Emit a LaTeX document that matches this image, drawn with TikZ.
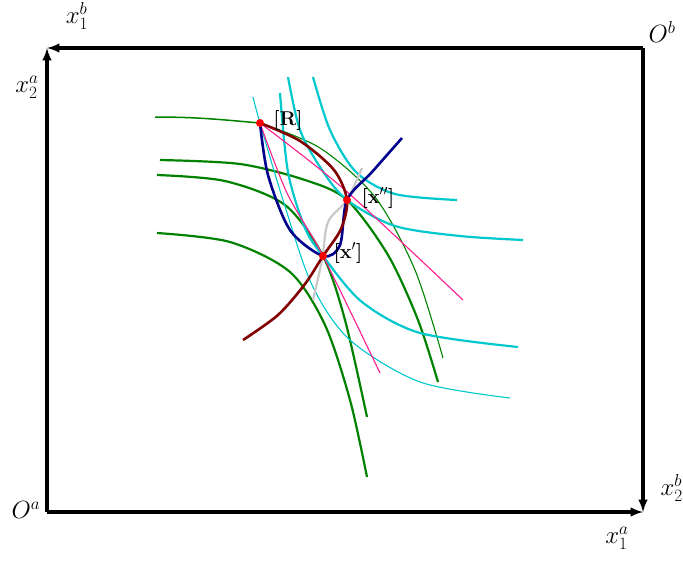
\documentclass[tikz,border=0pt]{standalone}
\usepackage{amsmath, amssymb, amsfonts}
\usepackage{xcolor}
\usepackage{tikz}

\definecolor{vertB}{RGB}{0,130,0}
\definecolor{cyanA}{RGB}{0,200,205}
\definecolor{rose}{RGB}{255,30,140}
\definecolor{marine}{RGB}{0,0,140}
\definecolor{bordeaux}{RGB}{130,0,0}
\definecolor{grisclair}{RGB}{200,200,200}

\begin{document}
\begin{tikzpicture}[x=1pt, y=-1pt,
                axe/.style={line width=3.2pt, ->, >=latex},
                etiquette/.style={font=\fontsize{25}{25}\selectfont},
                point/.style={circle, fill=red, inner sep=0pt, minimum size=8pt},
                nom/.style={font=\fontsize{20}{20}\selectfont\bfseries, inner sep=1pt},
                indifA/.style={cyanA, line width=2.2pt},
                indifAfin/.style={cyanA, line width=1.1pt},
                indifB/.style={vertB, line width=2.2pt},
                indifBfin/.style={vertB, line width=1.1pt},
                budget/.style={rose, line width=1.1pt},
                contrat/.style={marine, line width=2.6pt},
                offre/.style={bordeaux, line width=2.6pt},
                aux/.style={grisclair, line width=2.2pt}
            ]
                \useasboundingbox (0,0) rectangle (683,560);

                % Les quatre coins de la boîte
                \coordinate (Oa) at (47,512);
                \coordinate (Ob) at (643,48);
                \coordinate (HG) at (47,48);
                \coordinate (BD) at (643,512);

                % Les axes (flèches)
                \draw[axe] (Oa) -- (HG);
                \draw[axe] (Ob) -- (HG);
                \draw[axe] (Oa) -- (BD);
                \draw[axe] (Ob) -- (BD);

                % Étiquettes des origines et des axes
                \node[etiquette] (LOa) at (26,510) {$O^a$};
                \node[etiquette] (LOb) at (662,32) {$O^b$};
                \node[etiquette] (Lx1b) at (77,16) {$x_1^b$};
                \node[etiquette] (Lx2a) at (27,87) {$x_2^a$};
                \node[etiquette] (Lx1a) at (617,538) {$x_1^a$};
                \node[etiquette, anchor=west] (Lx2b) at (657,488) {$x_2^b$};

                % Points remarquables
                \coordinate (R) at (260,123);
                \coordinate (X2) at (347,200);
                \coordinate (X1) at (323,256);

                % Courbes d'indifférence de b (vert)
                \draw[indifB, line width=1.5pt] (155,117) to[out=0, in=175] (R);
                \draw[indifBfin] plot[smooth] coordinates {(R) (320,148) (375,197) (415,270) (443,358)};
                \draw[indifB] plot[smooth] coordinates {(160,160) (240,164) (305,180) (X2) (388,255) (418,320) (438,382)};
                \draw[indifB] plot[smooth] coordinates {(157,175) (225,181) (285,205) (X1) (345,320) (367,417)};
                \draw[indifB] plot[smooth] coordinates {(157,233) (230,242) (290,272) (325,325) (350,400) (367,477)};

                % Courbes d'indifférence de a (cyan)
                \draw[indifAfin] plot[smooth] coordinates {(253,97) (R) (283,200) (312,285) (350,340) (420,382) (510,398)};
                \draw[indifA] plot[smooth] coordinates {(280,93) (288,172) (305,228) (X1) (362,302) (420,333) (518,347)};
                \draw[indifA] plot[smooth] coordinates {(288,77) (300,130) (322,170) (X2) (395,226) (460,236) (523,240)};
                \draw[indifA] plot[smooth] coordinates {(313,77) (330,130) (356,172) (395,194) (457,200)};

                % Droites de budget (rose)
                \draw[budget] plot[smooth] coordinates {(R) (345,190) (463,300)};
                \draw[budget] plot[smooth] coordinates {(R) (287,193) (X1) (380,373)};

                % Courbe grise
                \draw[aux] plot[smooth] coordinates {(362,168) (X2) (328,222) (322,260) (313,300)};

                % Courbe des contrats (bleu)
                \draw[contrat] plot[smooth] coordinates {(R) (268,175) (290,230) (X1) (340,245) (X2) (372,172) (402,138)};

                % Courbe d'offre (bordeaux)
                \draw[offre] plot[smooth] coordinates {(243,340) (278,315) (305,284) (X1) (341,229) (X2) (334,170) (300,141) (R)};

                % Les points et leurs noms
                \node[point] (PR) at (R) {};
                \node[point] (PX2) at (X2) {};
                \node[point] (PX1) at (X1) {};
                \node[nom] (NR) at (288,120) {[R]};
                \node[nom] (NX2) at (378,198) {[x$''$]};
                \node[nom] (NX1) at (348,253) {[x$'$]};
            \end{tikzpicture}
\end{document}
